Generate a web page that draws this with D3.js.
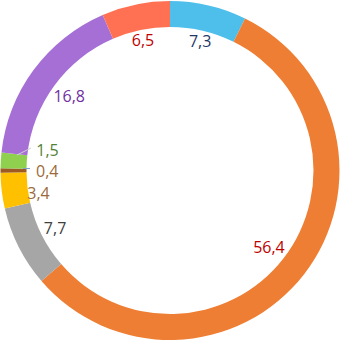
<!DOCTYPE html>
<html><head><meta charset="utf-8">
<script src="https://cdn.jsdelivr.net/npm/d3@7"></script>
<style>body{margin:0;background:#fff}svg{display:block}</style>
</head><body>
<svg id="c" width="363" height="364"></svg>
<script>
const categories = ["A","B","C","D","E","F","G","H"];
const values = [7.3, 56.4, 7.7, 3.4, 0.4, 1.5, 16.8, 6.5];
const labels = ["7,3","56,4","7,7","3,4","0,4","1,5","16,8","6,5"];
const colors = ["#4DBFEA","#EE7E33","#A6A6A6","#FFC000","#9C5A22","#8FD14F","#A66FD6","#FF7152"];
const labelColors = ["#1F3864","#C00000","#404040","#9C6A3A","#9C6A3A","#548235","#7030A0","#C00000"];
// manual nudges (px) from the centroid for the crowded small slices
const nudge = {3:[-2.4,7],4:[-4,1],5:[-4,-12]};

const svg = d3.select("#c");
const cx = 170, cy = 170.5, R = 169.5, r = 143.5, D = 141.5;
const g = svg.append("g").attr("transform",`translate(${cx},${cy})`);
const pie = d3.pie().sort(null).value(d=>d);
const arcs = pie(values);
const arc = d3.arc().innerRadius(r).outerRadius(R);
g.selectAll("path").data(arcs).enter().append("path")
  .attr("d",arc).attr("fill",(d,i)=>colors[i]);

const lab = d3.arc().innerRadius(130).outerRadius(130);
// leader lines for tiny slices
g.append("line").attr("x1",17-cx).attr("y1",155-cy).attr("x2",31-cx).attr("y2",148-cy)
  .attr("stroke","#D0D0D0").attr("stroke-width",1);
g.append("line").attr("x1",23-cx).attr("y1",168.5-cy).attr("x2",30-cx).attr("y2",168.5-cy)
  .attr("stroke","#7F9FD0").attr("stroke-width",1);

const texts = g.selectAll("text").data(arcs).enter().append("text")
  .attr("text-anchor",(d,i)=>(i===4||i===5)?"start":"middle")
  .attr("dy","0.35em")
  .attr("font-family","Open Sans, Liberation Sans, sans-serif")
  .attr("font-size",16)
  .attr("fill",(d,i)=>labelColors[i])
  .text((d,i)=>labels[i]);
texts.attr("transform",function(d,i){
  if(nudge[i]){const c=lab.centroid(d);const n=nudge[i];return `translate(${c[0]+n[0]},${c[1]+n[1]})`;}
  const m=(d.startAngle+d.endAngle)/2, s=Math.sin(m), c=-Math.cos(m);
  const w=this.getComputedTextLength()/2, h=6;
  const b=w*Math.abs(s)+h*Math.abs(c);
  const t=-b+Math.sqrt(b*b-(w*w+h*h-D*D));
  return `translate(${t*s},${t*c})`;
});
</script>
</body></html>
